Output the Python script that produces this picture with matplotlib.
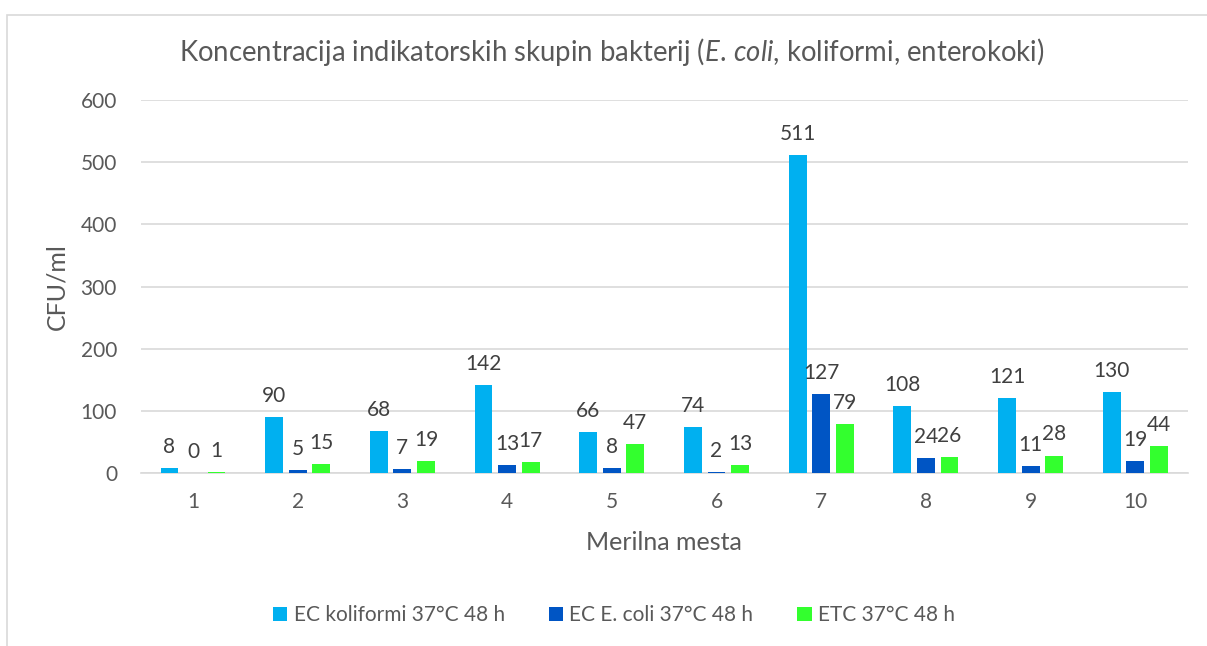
import numpy as np
import matplotlib
matplotlib.use("Agg")
import matplotlib.pyplot as plt
from matplotlib.patches import Rectangle

plt.rcParams['font.family'] = ['Lato', 'DejaVu Sans']
plt.rcParams['mathtext.fontset'] = 'custom'
plt.rcParams['mathtext.rm'] = 'Lato'
plt.rcParams['mathtext.it'] = 'Lato:italic'

mesta = ['1', '2', '3', '4', '5', '6', '7', '8', '9', '10']
koliformi = [8, 90, 68, 142, 66, 74, 511, 108, 121, 130]
ecoli = [0, 5, 7, 13, 8, 2, 127, 24, 11, 19]
etc = [1, 15, 19, 17, 47, 13, 79, 26, 28, 44]

series = [
    ('EC koliformi 37°C 48 h', koliformi, '#00B0F0'),
    ('EC E. coli 37°C 48 h', ecoli, '#0055C4'),
    ('ETC 37°C 48 h', etc, '#33FF2E'),
]

fig = plt.figure(figsize=(12.07, 6.46), dpi=100)
ax = fig.add_axes([0.1165, 0.2678, 0.8675, 0.5774])

# outer chart frame
fig.patches.append(Rectangle((0.006, -0.1), 1.2, 1.08 - 0.003, transform=fig.transFigure,
                             fill=False, edgecolor='#d9d9d9', linewidth=1.2))

x = np.arange(len(mesta))
w = 0.17
off = 0.225
for i, (name, vals, col) in enumerate(series):
    bars = ax.bar(x + (i - 1) * off, vals, width=w, color=col, label=name, zorder=3)
    for b, v in zip(bars, vals):
        ax.annotate(str(v), (b.get_x() + b.get_width() / 2, v), xytext=(0, 8),
                    textcoords='offset points', ha='center', va='bottom',
                    fontsize=15, color='#404040')

ax.set_xlim(-0.5, 9.5)
ax.set_ylim(0, 600)
ax.set_yticks(range(0, 601, 100))
ax.set_xticks(x)
ax.set_xticklabels(mesta)
ax.grid(axis='y', color='#d9d9d9', linewidth=1.2, zorder=0)
for s in ['top', 'right', 'left']:
    ax.spines[s].set_visible(False)
ax.spines['bottom'].set_color('#d9d9d9')
ax.spines['bottom'].set_linewidth(1.2)
ax.tick_params(axis='both', length=0, labelsize=15, labelcolor='#595959')
ax.tick_params(axis='y', pad=17)
ax.tick_params(axis='x', pad=14)

ax.set_ylabel('CFU/ml', fontsize=18, color='#595959')
ax.yaxis.set_label_coords(-0.069, 0.5)
ax.set_xlabel('Merilna mesta', fontsize=18, color='#595959', labelpad=13)

fig.text(0.507, 0.919, 'Koncentracija indikatorskih skupin bakterij ($\\mathit{E.}\\,\\mathit{coli}$, koliformi, enterokoki)',
         ha='center', va='center', fontsize=19.8, color='#595959')

ax.legend(loc='center', bbox_to_anchor=(0.452, -0.381), ncol=3, frameon=False,
          fontsize=15, labelcolor='#595959', handlelength=0.7, handleheight=0.7,
          handletextpad=0.3, columnspacing=2.1)

fig.savefig('out.png', dpi=100)
